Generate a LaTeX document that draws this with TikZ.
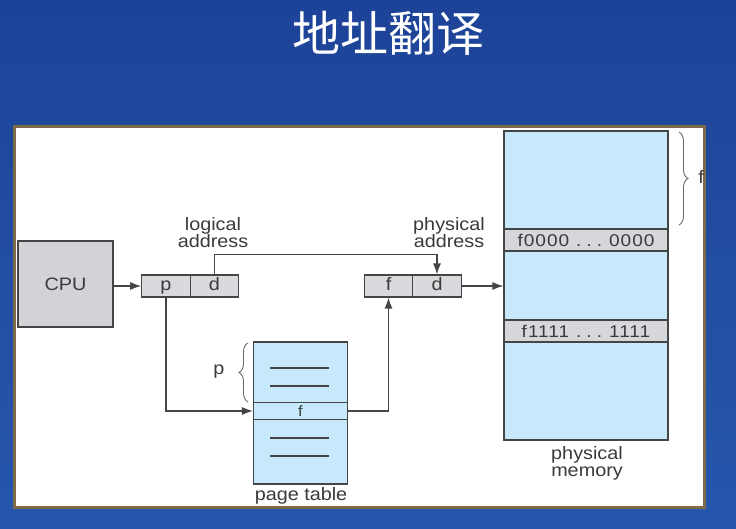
\documentclass[tikz,border=0pt]{standalone}
\usepackage{fontspec}
\setmainfont{Liberation Sans}[FakeStretch=1.1]
\newfontfamily\bandfont{Liberation Sans}[FakeStretch=1.12,LetterSpace=6]
\newfontfamily\cjk{Noto Sans CJK SC}
\usetikzlibrary{arrows.meta,decorations.pathreplacing}
\definecolor{bgtop}{HTML}{1D4398}
\definecolor{bgbot}{HTML}{2657AC}
\definecolor{panelborder}{HTML}{7D6A48}
\definecolor{ink}{HTML}{3A3A3A}
\definecolor{linec}{HTML}{454545}
\definecolor{cpugray}{HTML}{D3D3D7}
\definecolor{cellgray}{HTML}{DADADE}
\definecolor{membl}{HTML}{C6E9FB}
\definecolor{bandgray}{HTML}{D5D7DB}
\tikzset{
  box/.style={draw=linec, line width=1.2pt, inner sep=0pt, text=ink, font=\fontsize{18}{20}\selectfont},
  cell/.style={box, fill=cellgray, minimum width=48.5pt, minimum height=22pt, text height=13pt, text depth=4pt},
  lbl/.style={text=ink, font=\fontsize{18}{17}\selectfont, align=center, inner sep=0pt},
  conn/.style={draw=linec, line width=1.3pt},
  arr/.style={conn, -{Latex[length=11pt,width=8pt]}},
  brc/.style={draw=linec!80, line width=0.9pt, decorate, decoration={brace, amplitude=9pt}},
  rule/.style={draw=linec, line width=1.2pt}
}
\begin{document}
\begin{tikzpicture}[x=1pt,y=-1pt]
\useasboundingbox (0,0) rectangle (736,529);
\shade[top color=bgtop, bottom color=bgbot] (0,0) rectangle (736,529);
% title
\node[text=white, font=\cjk\fontsize{48}{48}\selectfont] (title) at (388,33) {地址翻译};
% panel
\draw[fill=white, draw=panelborder, line width=3pt] (14,127) rectangle (704,507);
% CPU
\node[box, fill=cpugray, minimum width=95pt, minimum height=86pt] (cpu) at (65.5,284) {CPU};
% logical address
\node[cell] (lp) at (166,286) {p};
\node[cell] (ld) at (214.5,286) {d};
\node[lbl] (llbl) at (213,233) {logical\\address};
% physical address
\node[cell] (pf) at (388.5,286) {f};
\node[cell] (pd) at (437,286) {d};
\node[lbl] (plbl) at (449,233) {physical\\address};
% physical memory
\node[box, fill=membl, minimum width=164pt, minimum height=309pt] (mem) at (586,285.5) {};
\node[box, fill=bandgray, minimum width=164pt, minimum height=22pt, font=\bandfont\fontsize{17}{20}\selectfont] (band0) at (586,240) {f0000\hspace{7pt}.\hspace{5pt}.\hspace{5pt}.\hspace{7pt}0000};
\node[box, fill=bandgray, minimum width=164pt, minimum height=22pt, font=\bandfont\fontsize{17}{20}\selectfont] (band1) at (586,331) {f1111\hspace{7pt}.\hspace{5pt}.\hspace{5pt}.\hspace{7pt}1111};
\node[lbl] (mlbl) at (587,463) {physical\\memory};
% page table
\node[box, fill=membl, minimum width=94pt, minimum height=142pt] (pt) at (300.5,413) {};
\node[box, fill=membl, minimum width=94pt, minimum height=17pt, font=\fontsize{15}{15}\selectfont] (ptf) at (300.5,411) {f};
\node[lbl] (ptlbl) at (301,496) {page table};
\draw[rule] (270,368) -- (329,368);
\draw[rule] (270,386) -- (329,386);
\draw[rule] (270,438) -- (329,438);
\draw[rule] (270,456) -- (329,456);
% braces
\draw[brc] (679,132) -- (679,225);
\node[lbl] (flbl) at (701,177) {f};
\draw[brc] (248,402) -- (248,343);
\node[lbl] (plbl2) at (219,372) {p};
% connectors
\draw[arr] (cpu.east |- lp.west) -- (lp.west);
\draw[arr] (ld.north) -- ++(0,-20) -| (pd.north);
\draw[arr] (lp.south) |- (ptf.west);
\draw[arr] (ptf.east) -| (pf.south);
\draw[arr] (pd.east) -- (pd.east -| mem.west);
\end{tikzpicture}
\end{document}
